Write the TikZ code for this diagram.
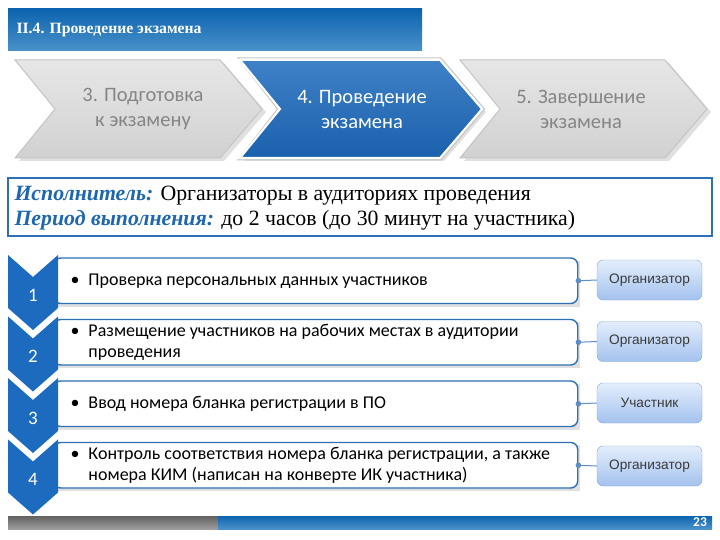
\documentclass[tikz,border=0pt]{standalone}
\usepackage{fontspec}
\setmainfont{Liberation Serif}
\newfontfamily\calibri{Carlito}
\newfontfamily\arialfont{Liberation Sans}
\usepackage{xcolor}
\definecolor{vblue}{HTML}{1D6BBE}
\definecolor{vbluetop}{HTML}{0C64AE}
\definecolor{vbluebot}{HTML}{4A91CA}
\definecolor{vframe}{HTML}{2E70B6}
\definecolor{vtitle}{HTML}{1E67AE}
\definecolor{vgrayfill}{HTML}{DCDCDC}
\definecolor{vgrayedge}{HTML}{C4C4C4}
\definecolor{vgraytext}{HTML}{858585}
\definecolor{vroletop}{HTML}{E4EEFC}
\definecolor{vrolebot}{HTML}{A3C2EE}
\definecolor{vroleedge}{HTML}{86A8D6}
\definecolor{vlink}{HTML}{5F8DC8}
\definecolor{vdarkgray}{HTML}{3A3A3A}

\begin{document}
\begin{tikzpicture}[x=1pt, y=-1pt,
		chevgray/.style={top color=vgrayfill!70!white, bottom color=vgrayfill!95!black, draw=vgrayedge, line width=1},
		chevtext/.style={font=\calibri\fontsize{20.5}{25}\selectfont, align=center, text=vgraytext},
		itembox/.style={draw=vframe, fill=white, line width=1.4, rounded corners=7, minimum width=524, minimum height=45.5, inner sep=0, anchor=west},
		itemtext/.style={font=\calibri\fontsize{18}{20.5}\selectfont, align=left, anchor=west},
		itemnum/.style={font=\calibri\fontsize{19}{22}\selectfont, text=white},
		rolebox/.style={draw=vroleedge, top color=vroletop, bottom color=vrolebot, rounded corners=6, minimum width=105, minimum height=40, font=\arialfont\fontsize{13.7}{16}\selectfont, text=vdarkgray},
		dropshade/.style={fill=black, opacity=.12}]
		\useasboundingbox (0,0) rectangle (720,540);
		\fill[white] (0,0) rectangle (720,540);
		\shade[top color=vbluetop, bottom color=vbluebot] (8,9) rectangle (422,51);
		\node[anchor=west, text=white, font=\bfseries\fontsize{15.7}{18}\selectfont] (title) at (13,30) {II.4. Проведение экзамена};
		\fill[dropshade] (19,63) -- (224,63) -- (266,112) -- (224,161) -- (19,161) -- (59,112) -- cycle;
		\fill[dropshade] (244,63) -- (444,63) -- (486,112) -- (444,161) -- (244,161) -- (284,112) -- cycle;
		\fill[dropshade] (464,63) -- (669,63) -- (711,112) -- (669,161) -- (464,161) -- (504,112) -- cycle;
		\draw[chevgray] (15,60) -- (220,60) -- (262,109) -- (220,158) -- (15,158) -- (55,109) -- cycle;
		\draw[chevgray] (460,60) -- (665,60) -- (707,109) -- (665,158) -- (460,158) -- (500,109) -- cycle;
		\draw[color=vgrayedge, line width=1] (238,58) -- (441,58) -- (484.5,109) -- (441,160) -- (238,160) -- (277.5,109) -- cycle;
		\draw[top color=vblue!85!white, bottom color=vblue!90!black, draw=white, line width=2] (240,60) -- (440,60) -- (482,109) -- (440,158) -- (240,158) -- (280,109) -- cycle;
		\node[chevtext] (prep) at (143,109) {3. Подготовка\\к экзамену};
		\node[chevtext, text=white] (exam) at (362,109) {4. Проведение\\экзамена};
		\node[chevtext] (final) at (581,109) {5. Завершение\\экзамена};
		\draw[color=vframe, line width=1.8] (8,178) rectangle (712,236);
		\node[anchor=west, font=\fontsize{21.8}{24}\selectfont] (who) at (11,196) {\textcolor{vtitle}{\bfseries\itshape Исполнитель:} Организаторы в аудиториях проведения};
		\node[anchor=west, font=\fontsize{21.8}{24}\selectfont] (period) at (11,220) {\textcolor{vtitle}{\bfseries\itshape Период выполнения:} до 2 часов (до 30 минут на участника)};
		\fill[dropshade] (58,260.5) rectangle (580,306.5);
		\fill[dropshade] (58,322) rectangle (580,368);
		\fill[dropshade] (58,383.5) rectangle (580,429.5);
		\fill[dropshade] (58,445) rectangle (580,491);
		\node[itembox] (b1) at (53,280.75) {};
		\node[itembox] (b2) at (53,342.25) {};
		\node[itembox] (b3) at (53,403.75) {};
		\node[itembox] (b4) at (53,465.25) {};
		\fill[color=vblue] (8,255) -- (33,277) -- (58,255) -- (58,308) -- (33,330) -- (8,308) -- cycle;
		\fill[color=vblue] (8,316.5) -- (33,338.5) -- (58,316.5) -- (58,369.5) -- (33,391.5) -- (8,369.5) -- cycle;
		\fill[color=vblue] (8,378) -- (33,400) -- (58,378) -- (58,431) -- (33,453) -- (8,431) -- cycle;
		\fill[color=vblue] (8,439.5) -- (33,461.5) -- (58,439.5) -- (58,492.5) -- (33,514.5) -- (8,492.5) -- cycle;
		\node[itemnum] (n1) at (33,295) {1};
		\node[itemnum] (n2) at (33,356.5) {2};
		\node[itemnum] (n3) at (33,418) {3};
		\node[itemnum] (n4) at (33,479.5) {4};
		\node[itemtext] (t1) at (67,280.75) {\textbullet\enspace Проверка персональных данных участников};
		\node[itemtext] (t2) at (67,342.25) {\textbullet\enspace Размещение участников на рабочих местах в аудитории\\\hphantom{\textbullet\enspace}проведения};
		\node[itemtext] (t3) at (67,403.75) {\textbullet\enspace Ввод номера бланка регистрации в ПО};
		\node[itemtext] (t4) at (67,465.25) {\textbullet\enspace Контроль соответствия номера бланка регистрации, а также\\\hphantom{\textbullet\enspace}номера КИМ (написан на конверте ИК участника)};
		\node[rolebox] (r1) at (649.5,280) {Организатор};
		\node[rolebox] (r2) at (649.5,341.5) {Организатор};
		\node[rolebox] (r3) at (649.5,403) {Участник};
		\node[rolebox] (r4) at (649.5,466) {Организатор};
		\draw[color=vlink, line width=1] (b1.east) -- (r1.west);
		\draw[color=vlink, line width=1] (b2.east) -- (r2.west);
		\draw[color=vlink, line width=1] (b3.east) -- (r3.west);
		\draw[color=vlink, line width=1] (b4.east) -- (r4.west);
		\fill[color=vlink] (b1.east) circle (2.8);
		\fill[color=vlink] (b2.east) circle (2.8);
		\fill[color=vlink] (b3.east) circle (2.8);
		\fill[color=vlink] (b4.east) circle (2.8);
		\shade[top color=black!62, bottom color=black!38] (8,516) rectangle (218,529);
		\shade[top color=vbluetop, bottom color=vbluebot] (218,516) rectangle (712,529);
		\node[text=white, font=\calibri\bfseries\fontsize{13.5}{15}\selectfont] (page) at (700,522.5) {23};
	\end{tikzpicture}
\end{document}
